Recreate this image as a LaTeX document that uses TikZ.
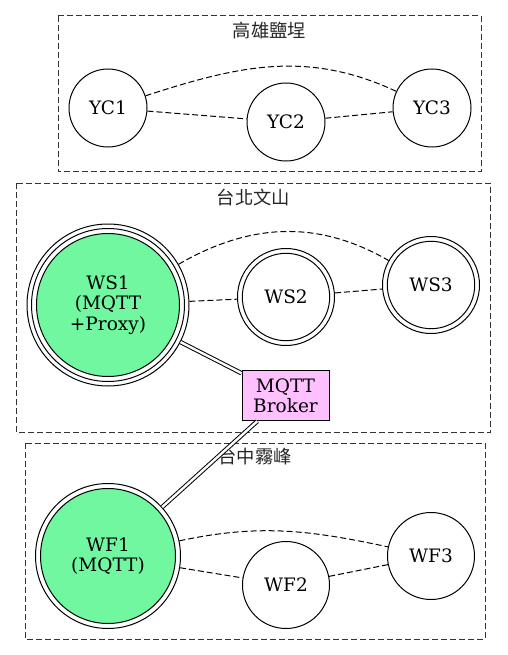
\documentclass[tikz,border=0pt]{standalone}
\usepackage{fontspec}
\setmainfont{DejaVu Serif}
\newfontfamily\cjk{Noto Sans CJK TC}
\definecolor{wsgreen}{RGB}{112,247,160}
\definecolor{brokerpink}{RGB}{255,192,255}
\tikzset{
  every node/.style={font=\fontsize{18.5}{20.5}\selectfont, inner sep=0pt},
  cluster/.style={draw=black!80, line width=1pt, dash pattern=on 6pt off 3pt},
  clabel/.style={font=\cjk\fontsize{18.3}{20}\selectfont, text=black!85},
  plainc/.style={circle, draw, line width=1pt, minimum size=#1},
  dblc/.style={circle, draw, line width=1pt, minimum size=97pt,
    path picture={\draw[line width=1pt] (path picture bounding box.center) circle (43.7pt);}},
  greendbl/.style={circle, draw, line width=1pt, minimum size=145pt,
    path picture={\draw[line width=1pt, fill=wsgreen] (path picture bounding box.center) circle (67.5pt);}},
  greentriple/.style={circle, draw, line width=1pt, minimum size=162pt,
    path picture={\draw[line width=1pt] (path picture bounding box.center) circle (76.5pt);
                  \draw[line width=1pt, fill=wsgreen] (path picture bounding box.center) circle (71.5pt);}},
  brokerbox/.style={rectangle, draw, line width=1pt, fill=brokerpink, minimum width=87pt, minimum height=50pt, align=center},
  link/.style={line width=1pt, dash pattern=on 6pt off 3pt},
  dbllink/.style={line width=1pt, double=white, double distance=2.4pt},
}
\begin{document}
\begin{tikzpicture}[x=1pt, y=-1pt]
\useasboundingbox (0,0) rectangle (507,655);
% clusters
\draw[cluster] (58,16) rectangle (481,172);
\node[clabel] (lyc) at (269.5,30.5) {高雄鹽埕};
\draw[cluster] (16,183) rectangle (490.5,432);
\node[clabel] (lws) at (253.5,197) {台北文山};
\draw[cluster] (25,443) rectangle (485,639);
\node[clabel] (lwf) at (255,457) {台中霧峰};
% nodes
\node[plainc=78pt] (YC1) at (108,108) {YC1};
\node[plainc=78pt] (YC2) at (286,122) {YC2};
\node[plainc=78pt] (YC3) at (432,108) {YC3};
\node[greentriple, align=center] (WS1) at (108,305) {WS1\\(MQTT\\+Proxy)};
\node[dblc] (WS2) at (286,297) {WS2};
\node[dblc] (WS3) at (431,285) {WS3};
\node[brokerbox] (BR) at (285.5,395.7) {MQTT\\Broker};
\node[greendbl, align=center] (WF1) at (108,556) {WF1\\(MQTT)};
\node[plainc=87pt] (WF2) at (286,585) {WF2};
\node[plainc=87pt] (WF3) at (431,556) {WF3};
% edges
\draw[link] (YC1) -- (YC2);
\draw[link] (YC2) -- (YC3);
\draw[link] (YC1) to[out=18, in=155] (YC3);
\draw[link] (WS1) -- (WS2);
\draw[link] (WS2) -- (WS3);
\draw[link] (WS1) to[out=30, in=150] (WS3);
\draw[dbllink] (WS1) -- (BR);
\draw[dbllink] (BR) -- (WF1);
\draw[link] (WF1) -- (WF2);
\draw[link] (WF2) -- (WF3);
\draw[link] (WF1) to[out=12, in=168] (WF3);
\end{tikzpicture}
\end{document}
